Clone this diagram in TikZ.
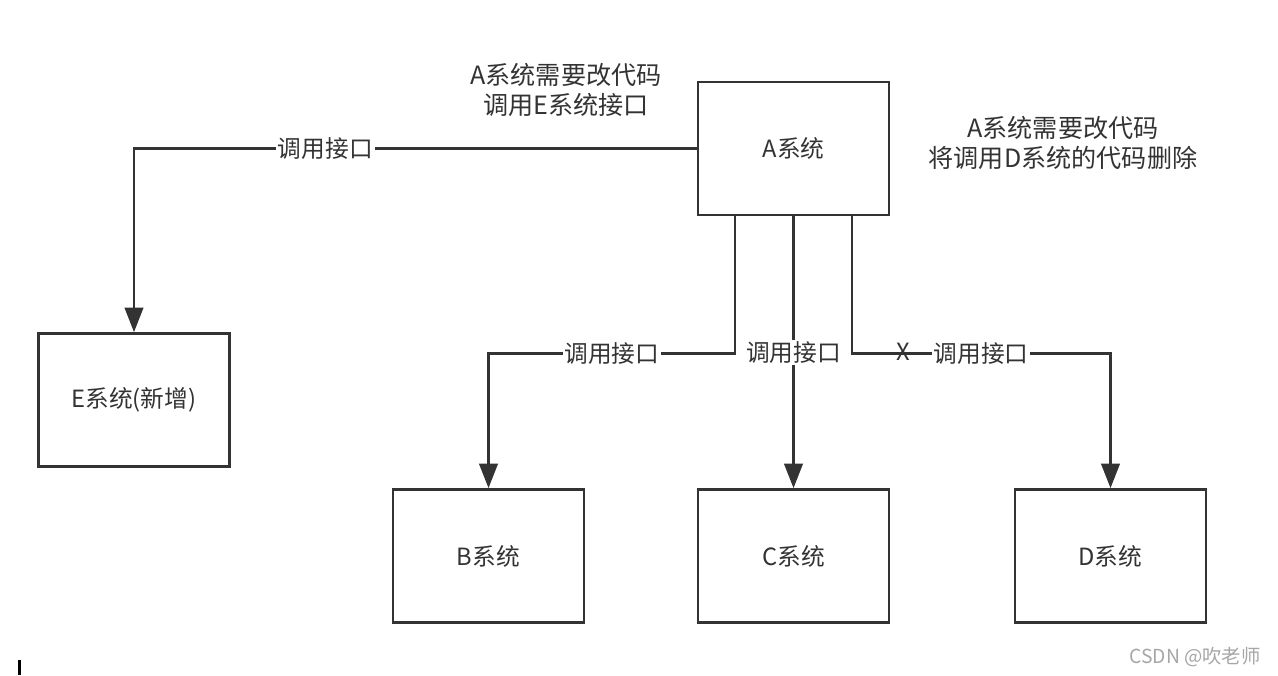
\documentclass[tikz,border=0pt]{standalone}
\usepackage{fontspec}
\setmainfont{Noto Sans CJK SC}
\usetikzlibrary{arrows.meta}
\definecolor{ln}{HTML}{333333}

\begin{document}
\begin{tikzpicture}[x=0.02cm,y=-0.02cm,every node/.style={font=\fontsize{13.5}{17}\selectfont,text=ln},
	sys/.style={draw=ln,line width=1.5pt,minimum width=3.82cm,minimum height=2.66cm,inner sep=0pt},
	call/.style={draw=ln,line width=1.6pt,-{Triangle[width=10.5pt,length=14pt]}},
	lbl/.style={fill=white,inner sep=1pt},
	note/.style={align=center,font=\fontsize{14.3}{17}\selectfont}]
			\useasboundingbox (0,0) rectangle (1278,676);
			\node[sys] (a) at (793.5,148.5) {A系统};
			\node[sys] (e) at (134,400) {E系统(新增)};
			\node[sys] (b) at (488.5,556) {B系统};
			\node[sys] (c) at (793.5,556) {C系统};
			\node[sys] (d) at (1110.5,556) {D系统};
			\node[note] (n1) at (566,90) {A系统需要改代码\\调用E系统接口};
			\node[note] (n2) at (1063,143) {A系统需要改代码\\将调用D系统的代码删除};
			\draw[call] (a.west) -| node[lbl,pos=0.33] {调用接口} (e.north);
			\draw[call] ([xshift=-1.17cm]a.south) -- ++(0,137) -| node[lbl,pos=0.25] {调用接口} (b.north);
			\draw[call] (a.south) -- node[lbl,pos=0.5] {调用接口} (c.north);
			\draw[call] ([xshift=1.17cm]a.south) -- ++(0,137) -| node[inner sep=0,pos=0.1,yshift=1pt] (x) {X}
				node[lbl,pos=0.25] {调用接口} (d.north);
			\node[text=gray!70,font=\fontsize{11}{13}\selectfont] (wm) at (1195,657) {CSDN @吹老师};
			\fill[black] (18,660) rectangle (21,675);
		\end{tikzpicture}
\end{document}
